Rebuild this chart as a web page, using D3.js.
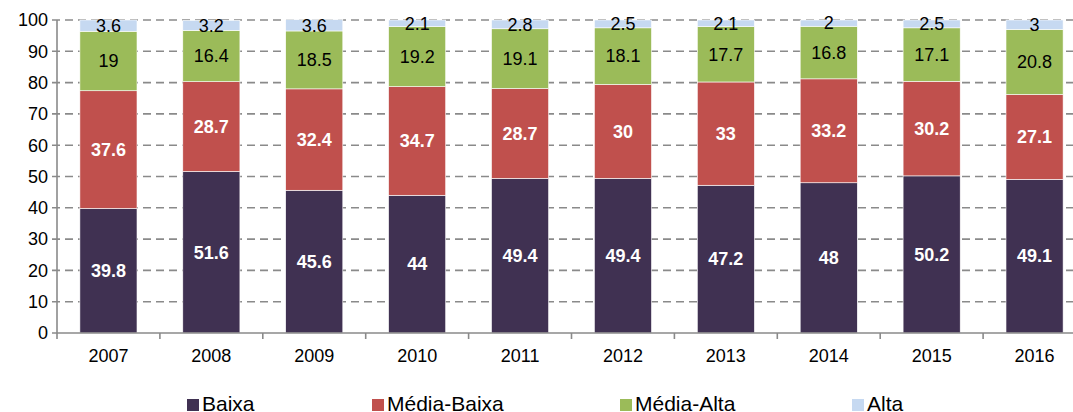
<!DOCTYPE html>
<html>
<head>
  <meta charset="utf-8" />
  <script src="https://d3js.org/d3.v7.min.js"></script>
  <style>
    body { margin: 0; background: #fff; }
    svg { display: block; font-family: "Liberation Sans", Arial, sans-serif; }
  </style>
</head>
<body>
  <div id="chart"></div>
  <script>
    const years = ["2007", "2008", "2009", "2010", "2011", "2012", "2013", "2014", "2015", "2016"];
    const seriesNames = ["Baixa", "Média-Baixa", "Média-Alta", "Alta"];
    const baixa = [39.8, 51.6, 45.6, 44, 49.4, 49.4, 47.2, 48, 50.2, 49.1];
    const mediaBaixa = [37.6, 28.7, 32.4, 34.7, 28.7, 30, 33, 33.2, 30.2, 27.1];
    const mediaAlta = [19, 16.4, 18.5, 19.2, 19.1, 18.1, 17.7, 16.8, 17.1, 20.8];
    const alta = [3.6, 3.2, 3.6, 2.1, 2.8, 2.5, 2.1, 2, 2.5, 3];
    const yTicks = [0, 10, 20, 30, 40, 50, 60, 70, 80, 90, 100];

    const colors = ["#403152", "#C0504D", "#9BBB59", "#C6D9F1"];
    const labelFill = ["#fff", "#fff", "#000", "#000"];
    const labelWeight = ["bold", "bold", "normal", "normal"];

    const width = 1073, height = 412;
    const plotLeft = 57, plotTop = 20, plotBottom = 333;

    const table = years.map((y, i) => ({
      year: y,
      "Baixa": baixa[i],
      "Média-Baixa": mediaBaixa[i],
      "Média-Alta": mediaAlta[i],
      "Alta": alta[i]
    }));
    const stacked = d3.stack().keys(seriesNames)(table);

    const svg = d3.select("#chart").append("svg")
      .attr("width", width)
      .attr("height", height);

    const x = d3.scaleBand()
      .domain(years)
      .range([plotLeft, plotLeft + 10 * 102.9])
      .paddingInner(0.445)
      .paddingOuter(0.2225);

    const y = d3.scaleLinear().domain([0, 100]).range([plotBottom, plotTop]);

    // dashed gridlines
    svg.append("g")
      .selectAll("line")
      .data(yTicks.filter(d => d > 0))
      .enter().append("line")
      .attr("x1", plotLeft - 5)
      .attr("x2", width + 20)
      .attr("y1", d => y(d))
      .attr("y2", d => y(d))
      .attr("stroke", "#8a8a8a")
      .attr("stroke-width", 1.6)
      .attr("stroke-dasharray", "8,5");

    // bars
    const layers = svg.append("g")
      .selectAll("g")
      .data(stacked)
      .enter().append("g")
      .attr("fill", (d, i) => colors[i]);

    layers.selectAll("rect")
      .data(d => d)
      .enter().append("rect")
      .attr("x", d => x(d.data.year))
      .attr("y", d => y(d[1]))
      .attr("width", x.bandwidth())
      .attr("height", d => y(d[0]) - y(d[1]))
      .attr("stroke", "#fff")
      .attr("stroke-width", 0.6);

    // value labels
    stacked.forEach((layer, i) => {
      svg.append("g")
        .selectAll("text")
        .data(layer)
        .enter().append("text")
        .attr("x", d => x(d.data.year) + x.bandwidth() / 2)
        .attr("y", d => y((d[0] + d[1]) / 2))
        .attr("dy", "0.35em")
        .attr("text-anchor", "middle")
        .attr("font-size", 18)
        .attr("font-weight", labelWeight[i])
        .attr("fill", labelFill[i])
        .text(d => d.data[layer.key]);
    });

    // y axis
    svg.append("line")
      .attr("x1", plotLeft).attr("x2", plotLeft)
      .attr("y1", plotTop).attr("y2", plotBottom)
      .attr("stroke", "#8a8a8a")
      .attr("stroke-width", 1.6);

    svg.append("g")
      .selectAll("text")
      .data(yTicks)
      .enter().append("text")
      .attr("x", plotLeft - 9)
      .attr("y", d => y(d))
      .attr("dy", "0.35em")
      .attr("text-anchor", "end")
      .attr("font-size", 18)
      .attr("fill", "#000")
      .text(d => d);

    // x axis
    svg.append("line")
      .attr("x1", plotLeft - 5).attr("x2", width + 20)
      .attr("y1", plotBottom).attr("y2", plotBottom)
      .attr("stroke", "#8a8a8a")
      .attr("stroke-width", 1.6);

    svg.append("g")
      .selectAll("line")
      .data(d3.range(years.length + 1))
      .enter().append("line")
      .attr("x1", i => plotLeft + i * x.step())
      .attr("x2", i => plotLeft + i * x.step())
      .attr("y1", plotBottom)
      .attr("y2", plotBottom + 6)
      .attr("stroke", "#8a8a8a")
      .attr("stroke-width", 1.6);

    svg.append("g")
      .selectAll("text")
      .data(years)
      .enter().append("text")
      .attr("x", d => x(d) + x.bandwidth() / 2)
      .attr("y", 362)
      .attr("text-anchor", "middle")
      .attr("font-size", 18)
      .attr("fill", "#000")
      .text(d => d);

    // legend (cut off at the bottom edge, as in the original)
    const legendX = [187, 372, 620, 852];
    const legend = svg.append("g")
      .selectAll("g")
      .data(seriesNames)
      .enter().append("g")
      .attr("transform", (d, i) => `translate(${legendX[i]},0)`);

    legend.append("rect")
      .attr("x", 0)
      .attr("y", 399)
      .attr("width", 12)
      .attr("height", 12)
      .attr("fill", (d, i) => colors[i]);

    legend.append("text")
      .attr("x", 15)
      .attr("y", 411)
      .attr("font-size", 21)
      .attr("fill", "#000")
      .text(d => d);
  </script>
</body>
</html>
